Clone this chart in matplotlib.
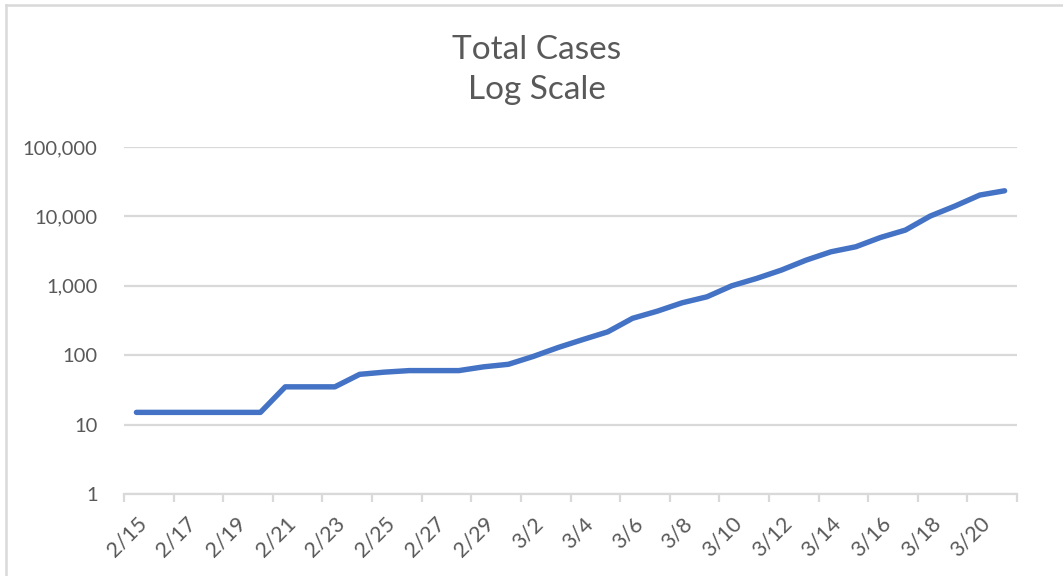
import numpy as np
import matplotlib.pyplot as plt
from matplotlib.ticker import FixedLocator, FuncFormatter, NullFormatter
from matplotlib.lines import Line2D

plt.rcParams['font.family'] = ['Lato', 'DejaVu Sans']

# dates shown on the category axis (2/15 .. 3/21)
dates = ['2/15', '2/16', '2/17', '2/18', '2/19', '2/20', '2/21', '2/22', '2/23',
         '2/24', '2/25', '2/26', '2/27', '2/28', '2/29', '3/1', '3/2', '3/3',
         '3/4', '3/5', '3/6', '3/7', '3/8', '3/9', '3/10', '3/11', '3/12',
         '3/13', '3/14', '3/15', '3/16', '3/17', '3/18', '3/19', '3/20', '3/21']
total_cases = [15, 15, 15, 15, 15, 15, 35, 35, 35,
               53, 57, 60, 60, 60, 68, 74, 96, 129,
               168, 217, 340, 431, 569, 694, 1000, 1276, 1683,
               2344, 3090, 3650, 4975, 6350, 10100, 14100, 20300, 23400]
y_ticks = [1, 10, 100, 1000, 10000, 100000]

grey_text = '#595959'
grid_col = '#d9d9d9'
line_col = '#4472C4'

fig = plt.figure(figsize=(10.63, 5.76), dpi=100)
ax = fig.add_axes([124/1063, 1 - 494/576, (1017 - 124)/1063, (494 - 147)/576])

x = np.arange(len(dates))
ax.plot(x, total_cases, color=line_col, lw=3.9,
        solid_capstyle='round', solid_joinstyle='round', zorder=3)

ax.set_yscale('log')
ax.set_ylim(1, 100000)
ax.set_xlim(-0.5, len(dates) - 0.5)

ax.yaxis.set_major_locator(FixedLocator(y_ticks))
ax.yaxis.set_minor_locator(FixedLocator([]))
ax.yaxis.set_major_formatter(FuncFormatter(lambda v, p: '{:,.0f}'.format(v)))
ax.tick_params(axis='y', length=0, pad=19, labelsize=14.5, labelcolor=grey_text)
ax.grid(axis='y', color=grid_col, lw=1.6, zorder=0)

# tick marks between categories every 2 days, labels on every other day
ax.xaxis.set_major_locator(FixedLocator(np.arange(-0.5, len(dates), 2)))
ax.xaxis.set_major_formatter(NullFormatter())
ax.xaxis.set_minor_locator(FixedLocator(x[::2]))
ax.set_xticklabels(dates[::2], minor=True)
ax.tick_params(axis='x', which='major', length=6, width=1.6, color=grid_col)
ax.tick_params(axis='x', which='minor', length=0, pad=14, labelsize=15.5,
               labelcolor=grey_text)
for lab in ax.get_xticklabels(minor=True):
    lab.set_rotation(45)
    lab.set_ha('right')
    lab.set_rotation_mode('anchor')

for s in ['top', 'right', 'left']:
    ax.spines[s].set_visible(False)
ax.spines['bottom'].set_color(grid_col)
ax.spines['bottom'].set_linewidth(1.6)

fig.text(537/1063, 1 - 59/576, 'Total Cases', ha='center', va='baseline',
         fontsize=24, color=grey_text)
fig.text(537/1063, 1 - 99/576, 'Log Scale', ha='center', va='baseline',
         fontsize=24, color=grey_text)

# chart area border (left and top edges visible)
fig.add_artist(Line2D([6/1063, 6/1063], [0, 1 - 5/576], transform=fig.transFigure,
                      color=grid_col, lw=1.8))
fig.add_artist(Line2D([6/1063, 1], [1 - 5/576, 1 - 5/576], transform=fig.transFigure,
                      color=grid_col, lw=1.8))

fig.savefig('out.png', dpi=100)
